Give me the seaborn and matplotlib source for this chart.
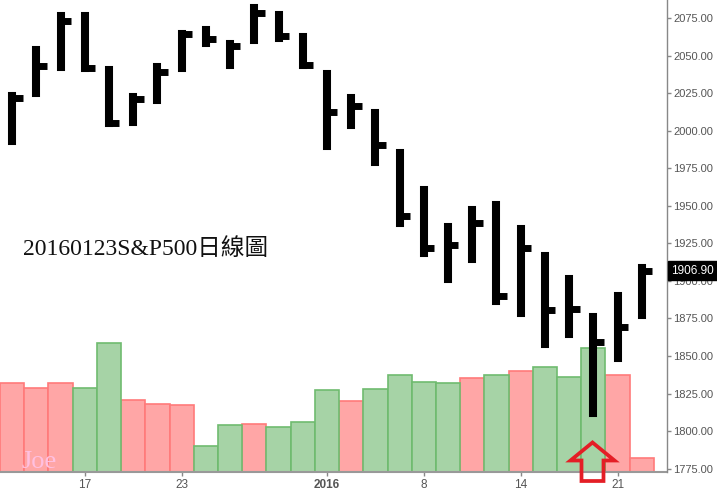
import numpy as np
import pandas as pd
import matplotlib
matplotlib.use("Agg")
import matplotlib.pyplot as plt
import matplotlib.transforms as mtransforms
from matplotlib.patches import Polygon
import seaborn as sns

# ---------------- data ----------------
dates = ["2015-12-14", "2015-12-15", "2015-12-16", "2015-12-17", "2015-12-18",
         "2015-12-21", "2015-12-22", "2015-12-23", "2015-12-24", "2015-12-28",
         "2015-12-29", "2015-12-30", "2015-12-31", "2016-01-04", "2016-01-05",
         "2016-01-06", "2016-01-07", "2016-01-08", "2016-01-11", "2016-01-12",
         "2016-01-13", "2016-01-14", "2016-01-15", "2016-01-19", "2016-01-20",
         "2016-01-21", "2016-01-22"]
open_ = [2013.37, 2025.55, 2046.50, 2073.76, 2040.81, 2010.27, 2023.15, 2042.20,
         2063.52, 2057.77, 2060.54, 2077.34, 2060.59, 2038.20, 2013.78, 2011.71,
         1985.32, 1945.97, 1926.12, 1927.83, 1940.34, 1891.68, 1916.68, 1888.66,
         1876.18, 1861.46, 1877.40]
high = [2022.92, 2053.87, 2076.72, 2076.37, 2040.81, 2022.90, 2042.74, 2064.73,
        2067.36, 2057.77, 2081.56, 2077.34, 2062.54, 2038.20, 2021.94, 2011.71,
        1985.32, 1960.40, 1935.65, 1947.38, 1950.33, 1934.47, 1916.68, 1901.44,
        1876.18, 1889.85, 1908.85]
low = [1993.26, 2025.55, 2042.43, 2041.66, 2005.33, 2005.93, 2020.49, 2042.20,
       2058.73, 2044.20, 2060.54, 2061.97, 2043.62, 1989.68, 2004.17, 1979.05,
       1938.83, 1918.46, 1901.10, 1914.35, 1886.41, 1878.93, 1857.83, 1864.60,
       1812.29, 1848.98, 1877.40]
close = [2021.94, 2043.41, 2073.07, 2041.89, 2005.55, 2021.15, 2038.97, 2064.29,
         2060.99, 2056.50, 2078.36, 2063.36, 2043.94, 2012.66, 2016.71, 1990.26,
         1943.09, 1922.03, 1923.67, 1938.68, 1890.28, 1921.84, 1880.33, 1881.33,
         1859.33, 1868.99, 1906.90]
volume = [4.45, 4.20, 4.45, 4.20, 6.47, 3.62, 3.40, 3.35, 1.33, 2.38, 2.43, 2.27,
          2.53, 4.12, 3.57, 4.18, 4.88, 4.50, 4.45, 4.72, 4.87, 5.05, 5.27, 4.78,
          6.20, 4.88, 0.73]
xtick_pos = [3, 7, 13, 17, 21, 25]
xtick_labels = ["17", "23", "2016", "8", "14", "21"]
price_ticks = list(range(1775, 2076, 25))
last_price = 1906.90
title = "20160123S&P500日線圖"

# ---------------- style ----------------
sns.set_style("white")
plt.rcParams["font.family"] = ["Liberation Sans", "DejaVu Sans"]

W, H = 717, 496
fig = plt.figure(figsize=(W / 100, H / 100), dpi=100)
ax = fig.add_axes([0, (H - 472.3) / H, 666.5 / W, 472.3 / H])

df = pd.DataFrame({
    "day": dates,
    "vol": volume,
    "dir": ["up" if c >= o else "down" for o, c in zip(open_, close)],
})
UP_FILL, DOWN_FILL = "#ffa6a6", "#a6d3a6"
UP_EDGE, DOWN_EDGE = "#ff7a7a", "#6fbb6f"
sns.barplot(data=df, x="day", y="vol", hue="dir", order=dates,
            palette={"up": UP_FILL, "down": DOWN_FILL}, dodge=False,
            width=1.0, saturation=1, legend=False, ax=ax, zorder=1)
for p in ax.patches:
    fc = p.get_facecolor()
    p.set_edgecolor(UP_EDGE if fc[0] > 0.9 else DOWN_EDGE)
    p.set_linewidth(1.2)

ax.set_ylim(0, 472.3 / 20)
ax.set_yticks([])
ax.set_ylabel("")
ax.set_xlabel("")

# price bars (HLC)
ax2 = ax.twinx()
x = np.arange(len(dates))
ax2.vlines(x, low, high, colors="black", linewidth=5.8, capstyle="projecting")
ax2.hlines(close, x + 0.1, x + 0.43, colors="black", linewidth=5.0)
ax2.set_ylim(1772.5, 2087.2)
ax2.set_yticks(price_ticks)
ax2.set_yticklabels([f"{v:.2f}" for v in price_ticks])
ax2.tick_params(axis="y", direction="out", length=3, width=1, color="#888888",
                labelcolor="#555555", labelsize=8, pad=2)

ax.set_xlim(-0.5, 27.02)
ax.set_xticks(xtick_pos)
ax.set_xticklabels(xtick_labels)
ax.tick_params(axis="x", direction="out", length=3, width=1, color="#888888",
               labelcolor="#555555", labelsize=8.5, pad=2, bottom=True)
ax.get_xticklabels()[2].set_fontweight("bold")

for s in ["left", "top", "right"]:
    ax.spines[s].set_visible(False)
ax.spines["bottom"].set_color("#999999")
ax.spines["bottom"].set_linewidth(1.5)
for s in ["left", "top", "bottom"]:
    ax2.spines[s].set_visible(False)
ax2.spines["right"].set_color("#888888")
ax2.spines["right"].set_linewidth(1.0)

# last price tag
trans = mtransforms.blended_transform_factory(ax2.transAxes, ax2.transData)
ax2.text(1 + 4.5 / 666.5, last_price, f"{last_price:.2f}", transform=trans,
         ha="left", va="center", color="white", fontsize=8.5, clip_on=False,
         zorder=5,
         bbox=dict(boxstyle="square,pad=0.28", fc="black", ec="black"))

# title text
fig.text(23 / W, 1 - 255 / H, title, fontsize=17, color="#111111",
         family=["Liberation Serif", "Noto Sans CJK TC"], va="baseline")

# watermark
fig.text(21 / W, 1 - 468 / H, "Joe", fontsize=19, color="#ffc0e0",
         family=["Liberation Serif"], va="baseline", zorder=3)

# red up arrow
pts_px = [(592.5, 442.5), (614.5, 460.5), (603.5, 460.5), (603.5, 481.0),
          (581.5, 481.0), (581.5, 460.5), (570.5, 460.5)]
pts = [(px / W, 1 - py / H) for px, py in pts_px]
fig.add_artist(Polygon(pts, closed=True, fill=False, edgecolor="#e41e26",
                       linewidth=2.7, joinstyle="miter",
                       transform=fig.transFigure, zorder=10))

fig.savefig("out.png", dpi=100)
